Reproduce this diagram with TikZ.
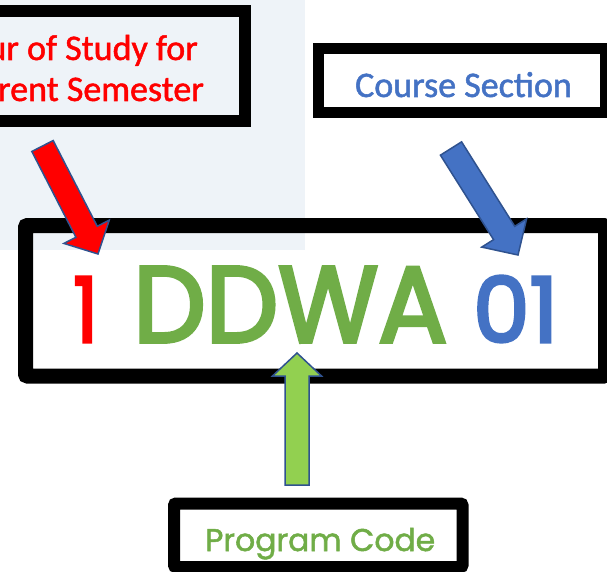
\documentclass[tikz,border=0pt]{standalone}
\usepackage{fontspec}
\setmainfont{Carlito}
\newfontfamily\carl{Carlito}[FakeBold=1.4]
\newfontfamily\popbig{Poppins}[FakeBold=3.5]
\newfontfamily\popsmall{Poppins}[FakeBold=1.6]
\usetikzlibrary{calc}
\definecolor{bgblue}{HTML}{EEF3F8}
\definecolor{myred}{HTML}{FF0000}
\definecolor{myblue}{HTML}{4472C4}
\definecolor{mygreen}{HTML}{70AD47}
\definecolor{lightgreen}{HTML}{92D050}
\definecolor{outline}{HTML}{2F528F}
\tikzset{
  framebox/.style={draw=black, rectangle, inner sep=0pt},
  label37/.style={inner sep=0pt, font=\carl\fontsize{36}{40}\selectfont},
  bigtxt/.style={inner sep=0pt, anchor=base west, font=\popbig},
  smalltxt/.style={inner sep=0pt, anchor=base west, font=\popsmall},
  blockarrow/.style={draw=outline, line width=1.5pt, line join=miter}
}
% #1 start, #2 end, #3 half shaft width, #4 half head width, #5 head length, #6 colour
\newcommand\myblockarrow[6]{%
  \path let \p1=($(#2)!#5!(#1)$) in coordinate (hh) at (\p1);
  \filldraw[blockarrow, fill=#6]
    ($(#1)!#3!90:(#2)$) -- ($(hh)!#3!-90:(#1)$) -- ($(hh)!#4!-90:(#1)$) -- (#2)
    -- ($(hh)!#4!90:(#1)$) -- ($(hh)!#3!90:(#1)$) -- ($(#1)!#3!-90:(#2)$) -- cycle;
}
\begin{document}
\begin{tikzpicture}[x=1pt,y=-1pt]
\useasboundingbox (0,0) rectangle (607,572);
\fill[white] (0,0) rectangle (607,572);
\fill[bgblue] (0,0) rectangle (305,250);

% top-left box
\node[framebox, line width=12pt, fill=bgblue, minimum width=275pt, minimum height=110pt] (yearbox) at (107.5,66) {};
\node[label37, anchor=base east, text=myred] (year1) at (198,60) {ur of Study for};
\node[label37, anchor=base east, text=myred] (year2) at (204,101) {rent Semester};

% top-right box
\node[framebox, line width=11pt, fill=white, minimum width=287pt, minimum height=64pt] (secbox) at (462,80.5) {};
\node[label37, anchor=base, text=myblue] (sectxt) at (463.5,97) {Course Section};

% main box
\node[framebox, line width=15pt, rounded corners=2pt, minimum width=580pt, minimum height=150.5pt] (mainbox) at (315.5,300.75) {};
\node[bigtxt, text=myred] (num1) at (73,342) {\resizebox{25pt}{65pt}{1}};
\node[bigtxt, text=mygreen] (prog) at (133,342) {\resizebox{314pt}{75pt}{DDWA}};
\node[bigtxt, text=myblue] (sec) at (473,342) {\resizebox{85pt}{66pt}{01}};

% bottom box
\node[framebox, line width=12pt, rounded corners=2pt, fill=white, minimum width=288.5pt, minimum height=63.5pt] (progbox) at (318.25,535.25) {};
\node[smalltxt, text=mygreen] (progtxt) at (205,551) {\resizebox{230pt}{!}{Program Code}};

% arrows
\coordinate (rs) at (42.5,146);
\coordinate (re) at (98,254);
\coordinate (bs) at (451,148.5);
\coordinate (be) at (518,255);
\coordinate (gs) at (297,485);
\coordinate (ge) at (297,353);
\myblockarrow{rs}{re}{12pt}{25.5pt}{25pt}{myred}
\myblockarrow{bs}{be}{12.5pt}{26.5pt}{26pt}{myblue}
\myblockarrow{gs}{ge}{12pt}{24.5pt}{23pt}{lightgreen}
\end{tikzpicture}
\end{document}
